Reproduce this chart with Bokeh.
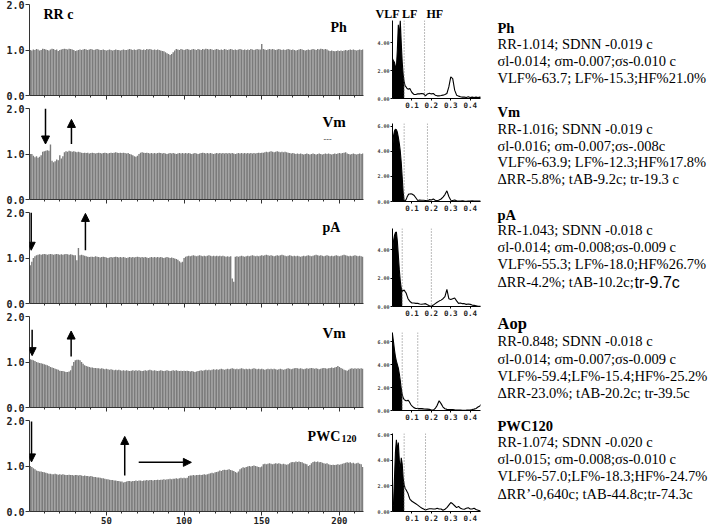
from bokeh.plotting import figure
from bokeh.layouts import row, column
from bokeh.models import (Range1d, FixedTicker, PrintfTickFormatter, Arrow, NormalHead, Label, Span,
                          CustomLabelingPolicy)
from bokeh.embed import file_html
from bokeh.resources import INLINE

# ---------------- RR interval series (s), one value per beat ----------------
RR_PH = [
 1.00,0.99,1.01,1.00,1.02,1.01,0.99,1.00,1.03,1.02,1.01,1.00,0.99,1.01,1.03,1.02,1.00,1.01,0.98,1.00,
 1.01,1.02,1.03,1.02,1.01,1.03,1.02,1.01,1.00,0.98,0.99,1.00,1.01,1.00,1.01,1.02,1.01,1.00,1.01,1.02,
 1.01,1.00,1.01,1.02,1.01,1.00,1.00,1.01,1.00,0.99,1.00,1.01,1.00,0.99,1.00,1.01,1.00,1.00,0.99,1.00,
 1.01,1.00,1.00,1.01,1.02,1.01,1.00,1.01,1.00,1.01,1.02,1.01,1.00,1.01,1.00,1.02,1.01,1.02,1.01,1.00,
 1.01,1.00,1.01,1.00,0.99,0.98,0.97,0.95,0.93,0.91,0.89,0.91,0.95,0.99,1.02,1.01,1.00,1.02,1.01,1.00,
 1.01,1.02,1.01,1.00,1.01,1.02,1.01,1.00,1.02,1.01,1.00,1.02,1.01,1.03,1.02,1.01,1.02,1.01,1.00,1.01,
 1.02,1.01,1.00,1.01,1.00,1.02,1.01,1.00,1.01,1.02,1.01,1.00,1.01,1.00,1.01,1.02,1.01,1.00,1.01,1.00,
 1.01,1.00,1.02,1.01,1.00,1.01,1.02,1.01,1.01,1.13,1.02,1.01,1.00,1.01,1.02,1.01,1.02,1.01,1.00,1.01,
 1.02,1.01,1.00,1.01,1.00,1.01,1.02,1.01,1.00,1.01,1.00,0.99,1.00,1.01,1.02,1.01,1.00,0.99,1.00,1.01,
 1.00,1.01,1.02,1.01,1.00,1.02,1.01,1.03,1.02,1.01,1.02,1.01,0.99,0.98,0.99,0.98,0.97,0.98,0.99,0.98,
 0.99,0.98,0.99,1.00,0.99,1.00,1.01,1.00,1.01,1.00,0.99,1.00,1.01,1.00,1.01]
RR_VM = [
 1.00,1.00,0.96,0.93,0.95,0.92,0.94,0.97,1.05,1.06,1.07,1.08,1.07,1.21,0.85,0.82,0.84,0.88,0.86,0.97,
 0.90,0.95,1.04,1.06,1.05,1.07,1.06,1.05,1.06,1.05,1.04,1.05,1.04,1.03,1.02,1.03,1.02,1.03,1.01,1.02,
 1.03,1.02,1.01,1.02,1.03,1.02,1.01,1.02,1.03,1.02,1.01,1.02,1.03,1.02,1.03,1.04,1.03,1.02,1.03,1.02,
 1.03,1.02,1.01,1.02,1.00,0.99,0.97,0.95,0.94,0.96,1.00,1.03,1.04,1.03,1.02,1.03,1.02,1.01,1.02,1.01,
 1.02,1.01,1.02,1.03,1.02,1.01,1.02,1.01,1.00,1.01,1.02,1.01,1.02,1.01,1.00,1.01,1.02,1.01,1.02,1.01,
 1.02,1.01,1.02,1.01,1.00,1.01,1.02,1.01,1.00,1.01,1.02,1.03,1.02,1.01,1.02,1.01,1.02,1.01,1.00,1.01,
 1.02,1.01,1.02,1.01,1.02,1.01,1.02,1.01,1.02,1.01,1.02,1.01,1.00,1.01,1.02,1.01,1.02,1.01,1.02,1.01,
 1.02,1.01,1.02,1.01,1.02,1.01,1.02,1.03,1.02,1.03,1.03,1.04,1.05,1.04,1.05,1.06,1.05,1.04,1.05,1.06,
 1.05,1.04,1.05,1.04,1.05,1.04,1.03,1.02,1.01,1.02,1.01,1.00,1.01,1.00,1.01,1.00,0.99,1.00,1.01,1.00,
 0.99,1.00,1.01,1.00,0.99,1.00,1.01,1.00,0.99,1.00,1.01,1.00,1.01,1.00,0.99,1.00,1.01,1.00,1.01,1.02,
 1.01,1.02,1.03,1.04,1.01,1.00,0.99,1.00,1.01,1.00,0.99,1.00,1.01,1.00,1.01]
RR_PA = [
 0.84,0.92,1.00,1.04,1.06,1.07,1.08,1.07,1.08,1.09,1.08,1.07,1.08,1.09,1.08,1.07,1.08,1.09,1.08,1.07,
 1.08,1.07,1.08,1.09,1.08,1.07,1.08,1.07,1.06,1.06,0.95,1.22,1.06,1.07,1.06,1.05,1.04,1.03,1.02,1.03,
 1.03,1.02,1.04,1.03,1.02,1.01,1.02,1.03,1.02,1.01,1.00,1.01,1.02,1.01,1.02,1.03,1.02,1.01,1.02,1.01,
 1.02,1.01,1.00,1.01,1.02,1.01,1.02,1.01,1.02,1.03,1.02,1.01,1.02,1.01,1.02,1.01,1.00,1.01,1.02,1.01,
 1.02,1.01,1.02,1.01,1.02,1.01,1.00,1.01,1.02,1.01,1.00,1.01,1.00,0.99,0.98,0.96,0.93,0.90,0.92,1.00,
 1.03,1.04,1.05,1.04,1.05,1.06,1.05,1.04,1.05,1.06,1.05,1.04,1.05,1.04,1.05,1.06,1.05,1.04,1.05,1.04,
 1.05,1.04,1.05,1.04,1.05,1.04,1.03,1.04,1.03,1.04,0.55,0.48,1.03,1.04,1.03,1.04,1.05,1.04,1.03,1.04,
 1.05,1.04,1.05,1.06,1.05,1.04,1.05,1.04,1.05,1.06,1.05,1.06,1.07,1.06,1.05,1.06,1.05,1.04,1.05,1.06,
 1.05,1.06,1.07,1.06,1.05,1.04,1.05,1.06,1.05,1.04,1.05,1.04,1.05,1.04,1.03,1.04,1.05,1.04,1.05,1.06,
 1.05,1.04,1.05,1.06,1.07,1.06,1.05,1.06,1.05,1.04,1.05,1.06,1.05,1.04,1.05,1.04,1.05,1.06,1.05,1.04,
 1.05,1.06,1.07,1.06,1.05,1.04,1.05,1.04,1.05,1.06,1.05,1.04,1.05,1.04,1.03]
RR_VM2 = [
 1.06,1.05,1.04,1.02,1.00,0.99,0.98,0.97,0.96,0.95,0.94,0.93,0.91,0.89,0.88,0.87,0.85,0.84,0.83,0.81,
 0.80,0.80,0.79,0.78,0.78,0.79,0.82,0.92,1.00,1.04,1.05,1.05,1.04,1.00,0.96,0.93,0.91,0.90,0.89,0.88,
 0.88,0.87,0.87,0.86,0.86,0.85,0.86,0.85,0.84,0.85,0.84,0.83,0.84,0.83,0.82,0.83,0.82,0.83,0.82,0.81,
 0.82,0.81,0.82,0.81,0.80,0.81,0.82,0.81,0.82,0.81,0.82,0.81,0.80,0.81,0.82,0.81,0.82,0.83,0.82,0.81,
 0.82,0.81,0.80,0.81,0.82,0.81,0.80,0.81,0.82,0.81,0.80,0.81,0.82,0.81,0.82,0.81,0.80,0.81,0.80,0.81,
 0.80,0.81,0.80,0.79,0.80,0.79,0.78,0.79,0.80,0.81,0.82,0.81,0.82,0.83,0.82,0.83,0.82,0.83,0.84,0.83,
 0.84,0.83,0.84,0.85,0.84,0.83,0.84,0.85,0.84,0.85,0.86,0.85,0.84,0.85,0.84,0.85,0.86,0.85,0.84,0.85,
 0.84,0.85,0.84,0.85,0.86,0.85,0.84,0.85,0.84,0.85,0.84,0.83,0.84,0.85,0.84,0.85,0.84,0.85,0.84,0.83,
 0.84,0.85,0.84,0.83,0.84,0.85,0.86,0.85,0.84,0.85,0.86,0.87,0.86,0.85,0.86,0.85,0.84,0.85,0.86,0.85,
 0.86,0.87,0.86,0.85,0.86,0.85,0.84,0.85,0.86,0.87,0.86,0.85,0.86,0.87,0.88,0.87,0.88,0.89,0.91,0.89,
 0.87,0.85,0.83,0.82,0.81,0.83,0.85,0.86,0.85,0.86,0.85,0.86,0.85,0.86,0.85]
RR_PWC = [
 1.00,0.98,0.95,0.93,0.90,0.89,0.88,0.88,0.87,0.86,0.85,0.84,0.83,0.83,0.82,0.82,0.83,0.82,0.81,0.82,
 0.81,0.82,0.81,0.80,0.80,0.81,0.80,0.80,0.79,0.80,0.80,0.79,0.80,0.79,0.78,0.79,0.78,0.78,0.77,0.78,
 0.77,0.76,0.76,0.75,0.75,0.74,0.73,0.73,0.72,0.71,0.71,0.70,0.69,0.69,0.68,0.68,0.67,0.67,0.66,0.66,
 0.64,0.65,0.66,0.67,0.67,0.66,0.67,0.67,0.68,0.67,0.68,0.68,0.67,0.68,0.68,0.69,0.68,0.69,0.69,0.68,
 0.69,0.69,0.70,0.69,0.70,0.70,0.71,0.70,0.71,0.71,0.72,0.71,0.72,0.72,0.73,0.72,0.73,0.74,0.73,0.74,
 0.73,0.74,0.78,0.79,0.79,0.80,0.79,0.80,0.80,0.81,0.80,0.81,0.82,0.81,0.82,0.83,0.84,0.85,0.84,0.86,
 0.87,0.88,0.90,0.89,0.91,0.92,0.91,0.92,0.93,0.91,0.90,0.89,0.87,0.85,0.88,0.93,0.95,0.97,0.96,0.98,
 0.99,1.00,0.99,1.00,1.01,1.00,0.99,0.98,0.97,0.99,1.04,1.05,1.04,1.05,1.06,1.05,1.04,1.05,1.06,1.05,
 1.06,1.05,1.04,1.05,1.04,1.03,1.04,1.06,1.08,1.09,1.08,1.10,1.09,1.10,1.09,1.08,1.06,1.05,1.04,1.00,
 1.02,1.06,1.09,1.10,1.09,1.10,1.08,1.09,1.07,1.06,1.05,1.06,1.04,1.03,1.02,1.03,1.02,1.03,1.04,1.03,
 1.04,1.05,1.06,1.07,1.08,1.07,1.08,1.06,1.07,1.05,1.06,1.07,1.05,1.04,0.98]
RR_SERIES = [RR_PH, RR_VM, RR_PA, RR_VM2, RR_PWC]
RR_TICKS = [0.0, 1.0, 2.0]
BEAT_TICKS = [50, 100, 150, 200]
BEAT_MINOR = [10, 20, 30, 40, 50, 60, 70, 80, 90, 100, 110, 120, 130, 140, 150, 160, 170, 180, 190, 200, 210]
BEAT_RANGE = (0.5, 215.5)

# panel captions: (text, beat, rr, size)
PANEL_TEXT = [
    [("RR c", 9.5, 1.78, "14px"), ("Ph", 194.3, 1.50, "14px")],
    [("Vm", 189.1, 1.70, "15px"), ("---", 189.8, 1.33, "8px")],
    [("pA", 189.1, 1.67, "14px")],
    [("Vm", 189.1, 1.63, "15px")],
    [("PWC", 179.5, 1.65, "14px"), ("120", 201.3, 1.60, "10px")],
]
# event arrows: (panel, beat0, rr0, beat1, rr1)
ARROWS = [
    (1, 10.8, 2.00, 10.8, 1.22), (1, 27.5, 1.22, 27.5, 1.76),
    (2, 1.6, 2.00, 1.6, 1.17), (2, 36.5, 1.17, 36.5, 1.98),
    (3, 2.2, 1.71, 2.2, 1.14), (3, 27.3, 1.12, 27.3, 1.68),
    (4, 1.8, 1.98, 1.8, 1.09), (4, 61.8, 0.79, 61.8, 1.65), (4, 70.8, 1.08, 104.7, 1.08),
]

# ---------------- spectra ----------------
FREQ = [0.0, 0.005, 0.01, 0.015, 0.02, 0.025, 0.03, 0.035, 0.04, 0.045, 0.05,
        0.055, 0.06, 0.065, 0.07, 0.075, 0.08, 0.085, 0.09, 0.095, 0.10,
        0.11, 0.12, 0.13, 0.14, 0.15, 0.16, 0.17, 0.18, 0.19, 0.20,
        0.21, 0.22, 0.23, 0.24, 0.25, 0.26, 0.27, 0.28, 0.29, 0.30,
        0.31, 0.32, 0.33, 0.34, 0.35, 0.36, 0.37, 0.38, 0.39, 0.40,
        0.41, 0.42, 0.43, 0.44, 0.45, 0.46]
PSD_PH = [2.86,2.70,2.60,2.30,2.20,3.50,5.30,4.40,5.60,4.00,2.60,1.70,1.20,0.90,0.83,0.72,0.67,0.69,0.71,0.55,0.43,
          0.29,0.29,0.33,0.33,0.36,0.33,0.19,0.33,0.38,0.33,0.36,0.24,0.19,0.19,0.21,0.24,0.29,0.36,0.83,1.55,
          1.43,0.60,0.24,0.17,0.12,0.10,0.10,0.07,0.12,0.07,0.10,0.07,0.10,0.07,0.10,0.07]
PSD_VM = [4.00,5.20,5.60,5.75,5.70,5.50,5.10,4.60,4.00,3.10,1.90,0.70,0.05,0.05,0.15,0.35,0.50,0.60,0.60,0.62,0.60,
          0.50,0.30,0.08,0.12,0.10,0.10,0.08,0.05,0.15,0.12,0.20,0.10,0.05,0.12,0.20,0.35,0.55,0.85,0.40,0.10,
          0.08,0.12,0.05,0.04,0.03,0.05,0.03,0.02,0.04,0.03,0.05,0.03,0.04,0.03,0.03,0.02]
PSD_PA = [3.50,4.60,5.00,5.20,5.25,4.60,3.60,2.60,1.80,1.30,1.05,1.12,1.17,1.05,0.95,0.75,0.55,0.45,0.35,0.30,0.25,
          0.25,0.22,0.22,0.18,0.16,0.18,0.20,0.12,0.05,0.02,0.10,0.20,0.30,0.38,0.45,0.55,0.70,1.20,0.55,0.50,
          0.55,0.60,0.40,0.22,0.25,0.20,0.20,0.15,0.18,0.15,0.10,0.08,0.05,0.02,0.02,0.02]
PSD_AOP = [6.67,6.00,5.30,4.70,4.30,4.00,3.70,3.20,2.60,1.90,1.40,1.10,0.95,0.90,0.85,0.85,0.90,0.80,0.65,0.50,0.40,
           0.25,0.18,0.18,0.18,0.18,0.15,0.13,0.12,0.10,0.05,0.03,0.18,0.45,0.85,0.60,0.30,0.15,0.10,0.08,0.08,
           0.08,0.06,0.05,0.05,0.04,0.02,0.02,0.03,0.05,0.05,0.08,0.12,0.18,0.30,0.40,0.60]
PSD_PWC = [0.30,0.50,2.50,4.60,5.60,4.70,5.40,4.00,3.20,4.20,3.70,2.60,2.10,1.80,1.70,1.55,1.40,1.15,0.95,0.88,0.80,
           0.70,0.60,0.50,0.38,0.28,0.20,0.12,0.18,0.22,0.22,0.20,0.20,0.25,0.20,0.20,0.10,0.18,0.30,0.50,0.70,
           0.60,0.45,0.30,0.40,0.25,0.20,0.18,0.25,0.30,0.20,0.20,0.25,0.15,0.10,0.05,0.02]
PSD_SERIES = [PSD_PH, PSD_VM, PSD_PA, PSD_AOP, PSD_PWC]
VLF_END = [0.06, 0.06, 0.05, 0.05, 0.06]
HF_START = [0.165, 0.18, 0.20, 0.13, 0.17]
SHADE_BAND = [None, None, None, (0.13, 0.21), None]
PSD_MAX = [5.6, 6.2, 5.5, 6.8, 6.1]
PSD_TICKS = [0, 2, 4, 6]
FREQ_TICKS = [0.1, 0.2, 0.3, 0.4]
FREQ_RANGE = (0.0, 0.453)
BAND_HEADER = "VLF LF\u00a0\u00a0\u00a0HF"

# ---------------- right-hand summary text: (y, text, style) ----------------
SUMMARY = [
    (27, "Ph", "title"),
    (43.5, "RR-1.014; SDNN -0.019 c", ""),
    (60.5, "σl-0.014; σm-0.007;σs-0.010 c", ""),
    (77.5, "VLF%-63.7; LF%-15.3;HF%21.0%", ""),
    (111, "Vm", "title"),
    (128, "RR-1.016; SDNN -0.019 c", ""),
    (145, "σl-0.016; σm-0.007;σs-.008c", ""),
    (161.5, "VLF%-63.9; LF%-12.3;HF%17.8%", ""),
    (178, "ΔRR-5.8%; tAB-9.2c; tr-19.3 c", ""),
    (214, "pA", "title"),
    (229.5, "RR-1.043; SDNN -0.018 c", ""),
    (246.5, "σl-0.014; σm-0.008;σs-0.009 c", ""),
    (263.5, "VLF%-55.3; LF%-18.0;HF%26.7%", ""),
    (281.5, "ΔRR-4.2%; tAB-10.2c;", ""),
    (323, "Aop", "big"),
    (340, "RR-0.848; SDNN -0.018 c", ""),
    (358, "σl-0.014; σm-0.007;σs-0.009 c", ""),
    (375, "VLF%-59.4;LF%-15.4;HF%-25.2%", ""),
    (392, " ΔRR-23.0%; tAB-20.2c; tr-39.5c", ""),
    (425, "PWC120", "title"),
    (441.5, "RR-1.074; SDNN -0.020 c", ""),
    (458.5, "σl-0.015; σm-0.008;σs-0.010 c", ""),
    (475.5, "VLF%-57.0;LF%-18.3;HF%-24.7%", ""),
    (493, "ΔRR’-0,640c; tAB-44.8c;tr-74.3c", ""),
]
SUMMARY_EXTRA = [(634, 281.5, "tr-9.7c")]

MONO = "DejaVu Sans Mono"
SERIF = "Liberation Serif"

# layout (px): left panels, spectra, summary column
L_FRAME_H = 91
L_TOP = [4, 4, 4, 4, 4]
L_BOTTOM = [9, 9, 9, 9, 12]
S_TOP = [20, 12, 14, 13, 10]
S_BOTTOM = [13, 13, 13, 13, 12]

# ---------------- left RR panels ----------------
left_figs = []
for i, vals in enumerate(RR_SERIES):
    last = (i == len(RR_SERIES) - 1)
    p = figure(frame_width=334, frame_height=L_FRAME_H,
               x_range=Range1d(*BEAT_RANGE), y_range=Range1d(0, 2.0),
               output_backend="svg", toolbar_location=None,
               min_border_left=29, min_border_right=6,
               min_border_top=L_TOP[i], min_border_bottom=L_BOTTOM[i])
    p.outline_line_color = None
    p.xgrid.visible = False
    p.ygrid.visible = False
    p.background_fill_color = "white"
    beats = list(range(1, len(vals) + 1))
    p.vbar(x=beats, top=vals, bottom=0, width=0.9, fill_color="#7b7b7b", line_color=None)

    p.yaxis.ticker = FixedTicker(ticks=RR_TICKS)
    p.yaxis.formatter = PrintfTickFormatter(format="%.1f")
    p.yaxis.major_label_text_font = MONO
    p.yaxis.major_label_text_font_style = "bold"
    p.yaxis.major_label_text_font_size = "10px"
    p.yaxis.major_label_text_color = "#222222"
    p.yaxis.major_label_standoff = 1
    p.yaxis.major_tick_out = 4
    p.yaxis.major_tick_in = 0
    p.yaxis.minor_tick_line_color = None
    p.yaxis.axis_line_color = "#333333"
    p.yaxis.major_tick_line_color = "#333333"

    p.xaxis.ticker = FixedTicker(ticks=BEAT_TICKS, minor_ticks=BEAT_MINOR)
    p.xaxis.major_tick_out = 4
    p.xaxis.major_tick_in = 0
    p.xaxis.minor_tick_out = 2
    p.xaxis.minor_tick_in = 0
    p.xaxis.axis_line_color = "#333333"
    p.xaxis.major_tick_line_color = "#333333"
    p.xaxis.minor_tick_line_color = "#333333"
    p.xaxis.major_label_standoff = 1
    p.xaxis.major_label_text_font = MONO
    p.xaxis.major_label_text_font_style = "bold"
    p.xaxis.major_label_text_color = "#222222"
    if last:
        p.xaxis.major_label_text_font_size = "9px"
    else:
        p.xaxis.major_label_text_font_size = "1px"
        p.xaxis.major_label_policy = CustomLabelingPolicy(
            code="for (const i of indices) { indices.unset(i) }")

    for (txt, bx, ry, fs) in PANEL_TEXT[i]:
        p.add_layout(Label(x=bx, y=ry, text=txt, text_font=SERIF, text_font_style="bold",
                           text_font_size=fs, text_baseline="middle", text_align="left",
                           text_color="#555555" if txt == "---" else "black"))
    for (pi, x0, y0, x1, y1) in ARROWS:
        if pi == i:
            p.add_layout(Arrow(x_start=x0, y_start=y0, x_end=x1, y_end=y1,
                               line_color="black", line_width=1.5,
                               end=NormalHead(size=8, fill_color="black", line_color="black", line_width=1)))
    left_figs.append(p)

# ---------------- spectra ----------------
spec_figs = []
for i, psd in enumerate(PSD_SERIES):
    s = figure(frame_width=88, frame_height=78,
               x_range=Range1d(*FREQ_RANGE), y_range=Range1d(0, PSD_MAX[i]),
               output_backend="svg", toolbar_location=None,
               min_border_left=23, min_border_right=2,
               min_border_top=S_TOP[i], min_border_bottom=S_BOTTOM[i])
    if i == 0:
        s.title.text = BAND_HEADER
        s.title.align = "left"
        s.title.offset = -17
        s.title.standoff = 0
        s.title.text_font = SERIF
        s.title.text_font_style = "bold"
        s.title.text_font_size = "12px"
        s.title.text_color = "black"
    s.outline_line_color = None
    s.xgrid.visible = False
    s.ygrid.visible = False
    fx = [f for f in FREQ if f <= VLF_END[i] + 1e-9]
    fy = psd[:len(fx)]
    s.varea(x=fx, y1=[0] * len(fx), y2=fy, fill_color="black")
    if SHADE_BAND[i] is not None:
        lo, hi = SHADE_BAND[i]
        sx = [f for f in FREQ if lo - 1e-9 <= f <= hi + 1e-9]
        sy = [psd[k] for k, f in enumerate(FREQ) if lo - 1e-9 <= f <= hi + 1e-9]
        s.varea(x=sx, y1=[0] * len(sx), y2=sy, fill_color="#9a9a9a")
    s.line(FREQ, psd, line_color="black", line_width=1.1)
    s.add_layout(Span(location=VLF_END[i], dimension="height", line_color="#777777",
                      line_dash="1 2", line_width=1))
    s.add_layout(Span(location=HF_START[i], dimension="height", line_color="#777777",
                      line_dash="1 2", line_width=1))

    s.yaxis.ticker = FixedTicker(ticks=PSD_TICKS)
    s.yaxis.formatter = PrintfTickFormatter(format="%.2f")
    s.yaxis.major_label_text_font = MONO
    s.yaxis.major_label_text_font_size = "5px"
    s.yaxis.major_label_text_font_style = "bold"
    s.yaxis.major_label_standoff = 1
    s.yaxis.major_tick_out = 2
    s.yaxis.major_tick_in = 0
    s.yaxis.minor_tick_line_color = None
    s.yaxis.axis_line_color = "black"

    s.xaxis.ticker = FixedTicker(ticks=FREQ_TICKS)
    s.xaxis.formatter = PrintfTickFormatter(format="%.1f")
    s.xaxis.major_label_text_font = MONO
    s.xaxis.major_label_text_font_size = "7.5px"
    s.xaxis.major_label_text_font_style = "bold"
    s.xaxis.major_label_text_color = "#222222"
    s.xaxis.major_label_standoff = 1
    s.xaxis.major_tick_out = 2
    s.xaxis.major_tick_in = 0
    s.xaxis.minor_tick_line_color = None
    s.xaxis.axis_line_color = "black"
    spec_figs.append(s)

# ---------------- summary text ----------------
t = figure(frame_width=234, frame_height=527, x_range=Range1d(482, 716), y_range=Range1d(527, 0),
           output_backend="svg", toolbar_location=None, x_axis_type=None, y_axis_type=None,
           min_border=0)
t.outline_line_color = None
t.xgrid.visible = False
t.ygrid.visible = False
for (yy, txt, style) in SUMMARY:
    if style == "title":
        fs, fst = "14.5px", "bold"
    elif style == "big":
        fs, fst = "16.5px", "bold"
    else:
        fs, fst = "14.5px", "normal"
    t.add_layout(Label(x=497, y=yy, text=txt, text_font=SERIF, text_font_style=fst,
                       text_font_size=fs, text_baseline="middle", text_align="left",
                       text_color="black"))
for (xx, yy, txt) in SUMMARY_EXTRA:
    t.add_layout(Label(x=xx, y=yy, text=txt, text_font="Liberation Sans",
                       text_font_size="16px", text_baseline="middle", text_align="left",
                       text_color="black"))

layout = row(column(*left_figs), column(*spec_figs), t)
open("out.html", "w").write(file_html(layout, INLINE))
